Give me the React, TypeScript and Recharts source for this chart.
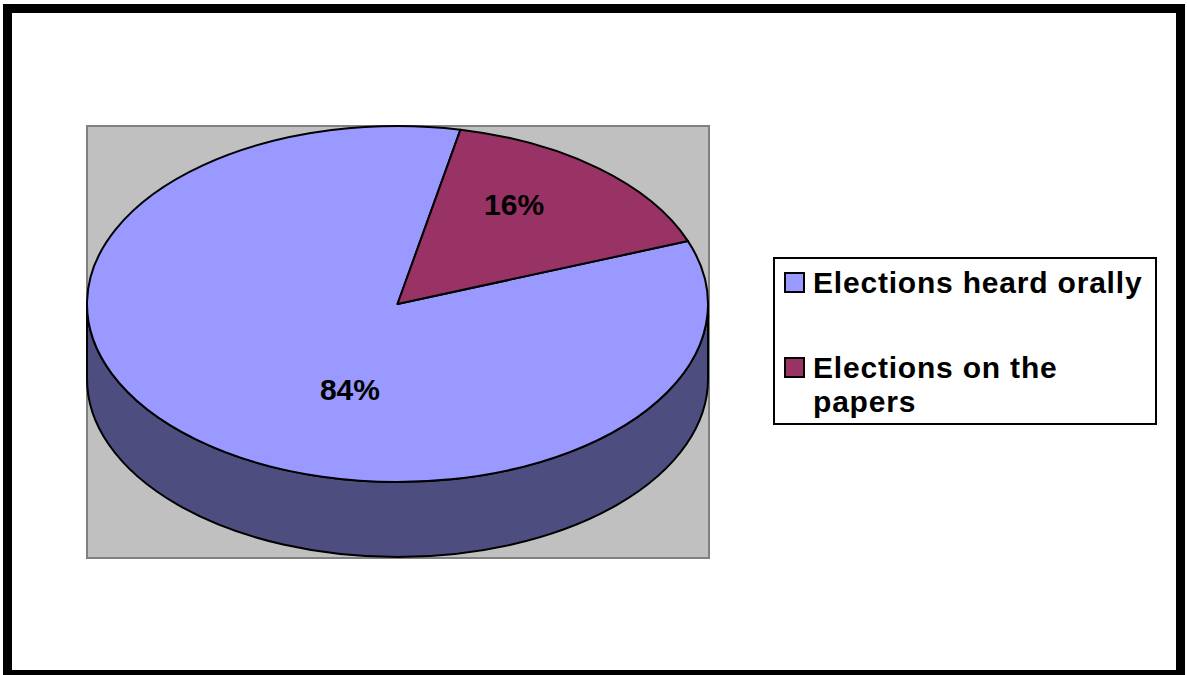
import { PieChart, Pie, Legend } from 'recharts'

const categories = ['Elections heard orally', 'Elections on the papers']
const shares = [84, 16]
const sliceColors = ['#9999FF', '#993366']
const sideColors = ['#4D4D80', '#4D1A33']

const data = categories.map((name, i) => ({ name, value: shares[i], fill: sliceColors[i] }))

// label reach along the mid angle, x and y separately (Excel puts them off-centre)
const labelReach = [
  [0.236, 0.628],
  [0.578, 0.735]
]

const CX = 397.5
const CY = 304
const RX = 310.5
const RY = 178
const DEPTH = 75
const FONT = '"Liberation Sans", Arial, sans-serif'

const pt = (deg: number, dy = 0) => {
  const r = (deg * Math.PI) / 180
  return `${CX + RX * Math.cos(r)},${CY - RY * Math.sin(r) + dy}`
}

const EllipseSlice = (props: any) => {
  const s = Math.min(props.startAngle, props.endAngle)
  const e = Math.max(props.startAngle, props.endAngle)
  const idx = categories.indexOf(props.payload?.name ?? props.name)
  const sides = []
  for (let n = -1; n <= 2; n++) {
    const a = Math.max(s, 180 + 360 * n)
    const b = Math.min(e, 360 + 360 * n)
    if (b > a) {
      sides.push(
        <path
          key={n}
          d={`M${pt(a)} A${RX} ${RY} 0 0 0 ${pt(b)} L${pt(b, DEPTH)} A${RX} ${RY} 0 0 1 ${pt(a, DEPTH)} Z`}
          fill={sideColors[idx] || '#444'}
          stroke="#000"
          strokeWidth={2}
          strokeLinejoin="round"
        />
      )
    }
  }
  const large = e - s > 180 ? 1 : 0
  return (
    <g>
      {sides}
      <path
        d={`M${CX},${CY} L${pt(s)} A${RX} ${RY} 0 ${large} 0 ${pt(e)} Z`}
        fill={props.fill}
        stroke="#000"
        strokeWidth={2}
        strokeLinejoin="round"
      />
    </g>
  )
}

const renderLabel = (props: any) => {
  const { midAngle, percent, index } = props
  const r = (midAngle * Math.PI) / 180
  const [kx, ky] = labelReach[index]
  const x = CX + RX * kx * Math.cos(r)
  const y = CY - RY * ky * Math.sin(r)
  return (
    <text
      x={x}
      y={y}
      textAnchor="middle"
      dominantBaseline="central"
      fontFamily={FONT}
      fontWeight="bold"
      fontSize={30}
      fill="#000"
    >
      {`${Math.round(percent * 100)}%`}
    </text>
  )
}

const LegendBox = ({ payload }: any) => (
  <div
    style={{
      boxSizing: 'border-box',
      width: 384,
      height: 168,
      border: '2px solid #000',
      background: '#fff',
      paddingTop: 7,
      fontFamily: FONT,
      fontWeight: 'bold',
      fontSize: 30,
      lineHeight: '34px',
      letterSpacing: 0.8,
      color: '#000'
    }}
  >
    {(payload || []).map((entry: any, i: number) => (
      <div key={entry.value} style={{ position: 'relative', marginTop: i === 0 ? 0 : 51 }}>
        <span
          style={{
            position: 'absolute',
            left: 9,
            top: 6,
            width: 21,
            height: 21,
            boxSizing: 'border-box',
            border: '2px solid #000',
            background: entry.color || sliceColors[i]
          }}
        />
        <div style={{ marginLeft: 38, width: 340 }}>{entry.value}</div>
      </div>
    ))}
  </div>
)

export default function App() {
  return (
    <div
      style={{
        position: 'absolute',
        left: 0,
        top: 0,
        width: 1187,
        height: 675,
        overflow: 'hidden',
        background: '#fff'
      }}
    >
      <div
        style={{
          position: 'absolute',
          left: 3,
          top: 4,
          width: 1182,
          height: 675,
          boxSizing: 'border-box',
          border: '9px solid #000'
        }}
      />
      <div
        style={{
          position: 'absolute',
          left: 86,
          top: 125,
          width: 624,
          height: 434,
          boxSizing: 'border-box',
          border: '2px solid #808080',
          background: '#C0C0C0'
        }}
      />
      <div style={{ position: 'absolute', left: 0, top: 0 }}>
        <PieChart width={1187} height={675} margin={{ top: 0, right: 0, bottom: 0, left: 0 }}>
          <Pie
            data={data}
            dataKey="value"
            nameKey="name"
            cx={CX}
            cy={CY}
            outerRadius={RX}
            startAngle={78.3}
            endAngle={438.3}
            shape={EllipseSlice}
            label={renderLabel}
            labelLine={false}
            isAnimationActive={false}
          />
          <Legend
            content={<LegendBox />}
            wrapperStyle={{ position: 'absolute', left: 773, top: 257, width: 384, height: 168 }}
          />
        </PieChart>
      </div>
    </div>
  )
}
